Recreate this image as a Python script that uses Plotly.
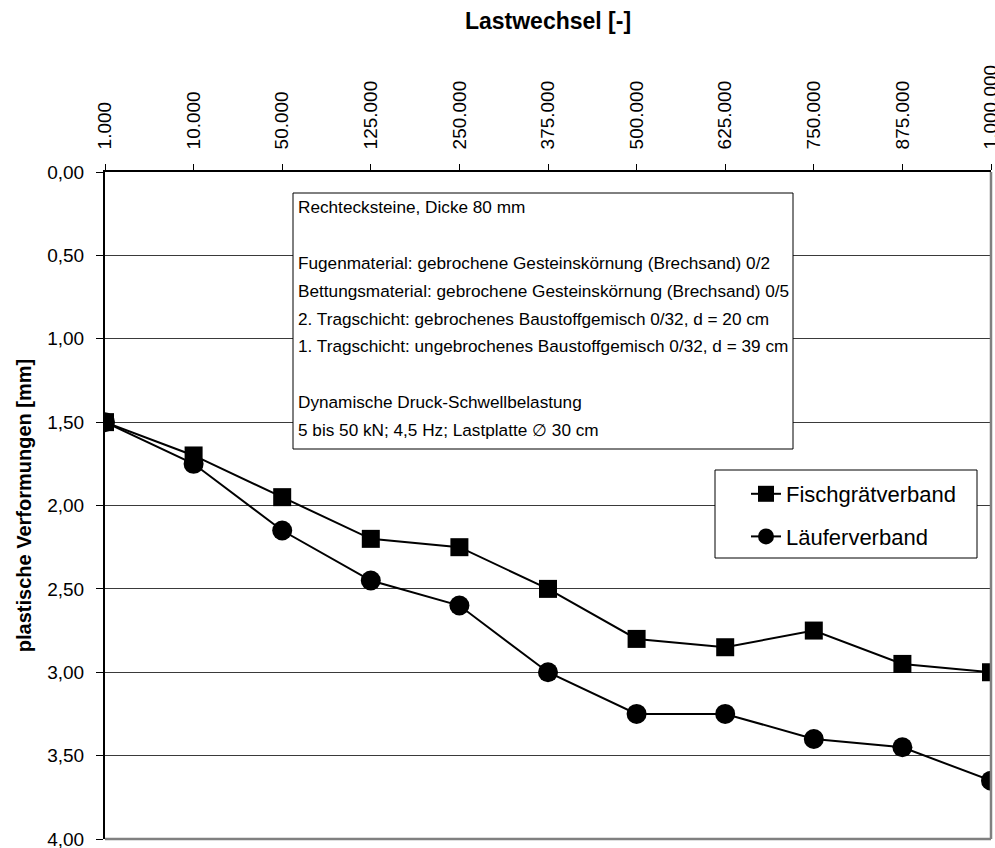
import plotly.graph_objects as go

# ---- data ----
lastwechsel = ["1.000", "10.000", "50.000", "125.000", "250.000", "375.000",
               "500.000", "625.000", "750.000", "875.000", "1.000.000"]
fischgraet = [1.50, 1.70, 1.95, 2.20, 2.25, 2.50, 2.80, 2.85, 2.75, 2.95, 3.00]
laeufer = [1.50, 1.75, 2.15, 2.45, 2.60, 3.00, 3.25, 3.25, 3.40, 3.45, 3.65]
y_ticks = [0, 0.5, 1.0, 1.5, 2.0, 2.5, 3.0, 3.5, 4.0]

info_lines = [
    "Rechtecksteine, Dicke 80 mm",
    "",
    "Fugenmaterial: gebrochene Gesteinskörnung (Brechsand) 0/2",
    "Bettungsmaterial: gebrochene Gesteinskörnung (Brechsand) 0/5",
    "2. Tragschicht: gebrochenes Baustoffgemisch 0/32, d = 20 cm",
    "1. Tragschicht: ungebrochenes Baustoffgemisch 0/32, d = 39 cm",
    "",
    "Dynamische Druck-Schwellbelastung",
    "5 bis 50 kN; 4,5 Hz; Lastplatte \u2205 30 cm",
]

FONT = "Arial, Liberation Sans, sans-serif"
W, H = 995, 848
L, R, T, B = 105, 4, 172, 9
PW, PH = W - L - R, H - T - B

def px_x(x):
    return (x - L) / PW

def px_y(y):
    return 1 - (y - T) / PH

fig = go.Figure()
fig.add_trace(go.Scatter(
    x=lastwechsel, y=fischgraet, name="Fischgrätverband", mode="lines+markers",
    line=dict(color="black", width=2),
    marker=dict(symbol="square", size=18, color="black"),
    legendgroup="a",
))
fig.add_trace(go.Scatter(
    x=lastwechsel, y=laeufer, name="Läuferverband", mode="lines+markers",
    line=dict(color="black", width=2),
    marker=dict(symbol="circle", size=20, color="black"),
    legendgroup="b",
))

fig.update_layout(
    width=W, height=H,
    margin=dict(l=L, r=R, t=T, b=B, pad=0, autoexpand=False),
    paper_bgcolor="white", plot_bgcolor="white",
    separators=",.",
    font=dict(family=FONT, color="black", size=19),
    showlegend=True,
    legend=dict(
        x=px_x(746), y=px_y(473), xanchor="left", yanchor="top",
        bgcolor="rgba(0,0,0,0)", borderwidth=0,
        font=dict(size=22, family=FONT),
        traceorder="grouped", tracegroupgap=11,
        itemsizing="trace",
    ),
    xaxis=dict(
        type="category", side="top", range=[0, len(lastwechsel) - 1],
        tickangle=-90, ticks="outside", ticklen=6, tickcolor="black", tickwidth=1,
        showline=True, linecolor="black", linewidth=1.5,
        showgrid=False, zeroline=False, automargin=False,
        tickfont=dict(size=19, family=FONT),
        ticklabelstandoff=11, ticklabeloverflow="allow",
        title=dict(text="<b>Lastwechsel [-]</b>", font=dict(size=23, family=FONT), standoff=29),
    ),
    yaxis=dict(
        range=[4, 0], tickvals=y_ticks, tickformat=".2f",
        ticks="outside", ticklen=7, tickcolor="black", tickwidth=1,
        showline=True, linecolor="black", linewidth=2,
        showgrid=True, gridcolor="#3a3a3a", gridwidth=1,
        zeroline=False, automargin=False,
        tickfont=dict(size=19, family=FONT),
        ticklabelstandoff=8, ticklabeloverflow="allow",
        title=dict(text="<b>plastische Verformungen [mm]</b>", font=dict(size=20, family=FONT), standoff=10),
    ),
)

# right / bottom plot border (gray)
fig.add_shape(type="line", xref="paper", yref="paper", x0=0, x1=1, y0=0, y1=0,
              line=dict(color="#808080", width=2.5), layer="above")
fig.add_shape(type="line", xref="paper", yref="paper", x0=1, x1=1, y0=0, y1=1,
              line=dict(color="#808080", width=2.5), layer="above")

# legend box
fig.add_shape(type="rect", xref="paper", yref="paper",
              x0=px_x(715), x1=px_x(977), y0=px_y(558), y1=px_y(470),
              line=dict(color="black", width=1), fillcolor="white", layer="above")

# info box
fig.add_shape(type="rect", xref="paper", yref="paper",
              x0=px_x(293), x1=px_x(793), y0=px_y(449), y1=px_y(193),
              line=dict(color="black", width=1), fillcolor="white", layer="above")
for i, line in enumerate(info_lines):
    if not line:
        continue
    fig.add_annotation(
        xref="paper", yref="paper", x=px_x(296), y=px_y(207 + 27.9 * i),
        xanchor="left", yanchor="middle", align="left",
        text=line, showarrow=False,
        font=dict(size=17.2, family=FONT),
    )

fig.write_html("out.html", config={"displayModeBar": False},
               post_script="document.body.style.margin='0';")
